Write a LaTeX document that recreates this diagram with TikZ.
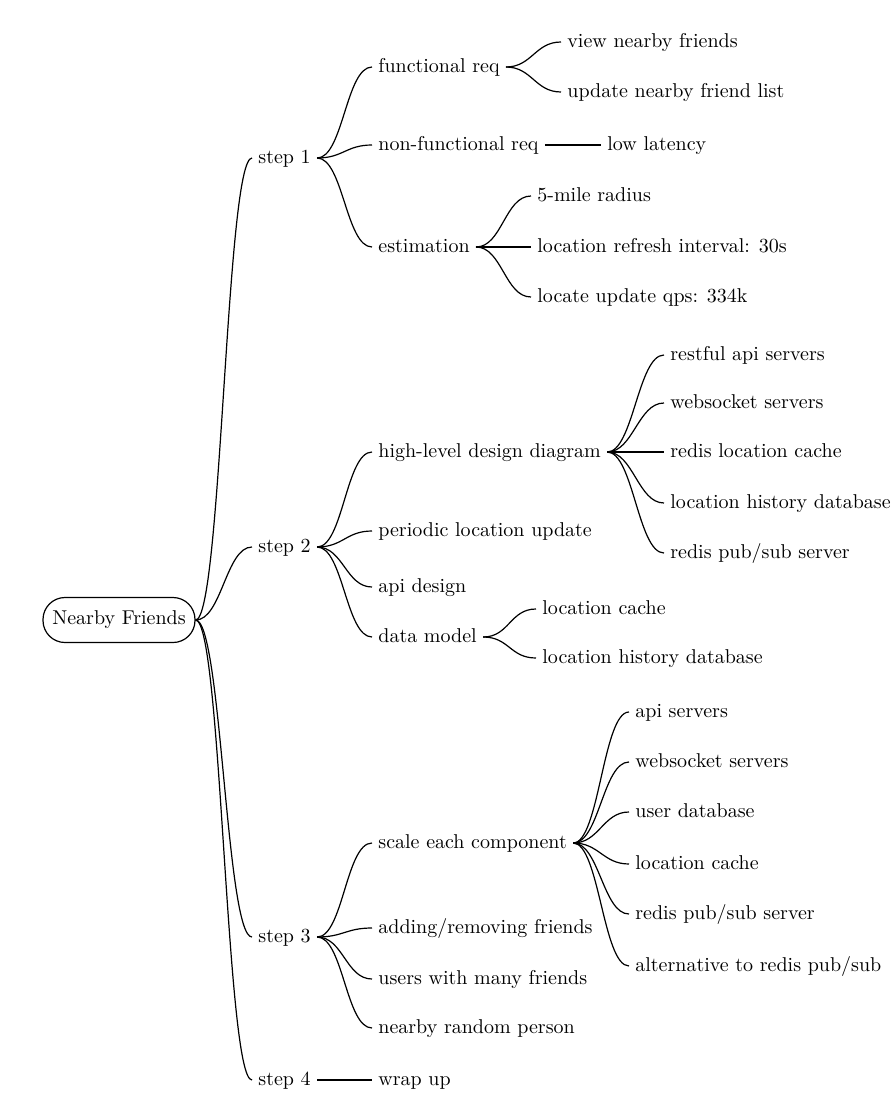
\documentclass[tikz,border=0pt]{standalone}
\usepackage{tikz}

\begin{document}
\begin{tikzpicture}
      [x=.5pt,y=-.5pt
      ,txt/.style={anchor=west,inner sep=3pt,text height=1.5ex,text depth=.25ex,font=\normalsize}
      ,root/.style={draw,semithick,rounded corners=11pt,minimum width=76pt,minimum height=22.5pt,font=\normalsize}
      ,lin/.style={semithick,color=black}
      ,br/.style={out=0,in=180,distance=13pt}]
        \useasboundingbox (0,0) rectangle (894,1108);
        \node[root] (nf) at (119,620) {Nearby Friends};
        % steps
        \node[txt] (s1) at (252,158)  {step 1};
        \node[txt] (s2) at (252,547)  {step 2};
        \node[txt] (s3) at (252,937)  {step 3};
        \node[txt] (s4) at (252,1080) {step 4};
        \foreach \s in {s1,s2,s3,s4}{
          \draw[lin] (nf.east) to[br] (\s.west);
        }
        % step 1
        \node[txt] (fr)  at (372,67)  {functional req};
        \node[txt] (nfr) at (372,145) {non-functional req};
        \node[txt] (est) at (372,247) {estimation};
        \node[txt] (fr1) at (561,42)  {view nearby friends};
        \node[txt] (fr2) at (561,92)  {update nearby friend list};
        \node[txt] (lat) at (601,145) {low latency};
        \node[txt] (es1) at (531,196) {5-mile radius};
        \node[txt] (es2) at (531,247) {location refresh interval: 30s};
        \node[txt] (es3) at (531,297) {locate update qps: 334k};
        \foreach \c in {fr,nfr,est}{
          \draw[lin] (s1.east) to[br] (\c.west);
        }
        \foreach \c in {fr1,fr2}{
          \draw[lin] (fr.east) to[br] (\c.west);
        }
        \draw[lin] (nfr.east) -- (lat.west);
        \foreach \c in {es1,es2,es3}{
          \draw[lin] (est.east) to[br] (\c.west);
        }
        % step 2
        \node[txt] (hld) at (372,452) {high-level design diagram};
        \node[txt] (plu) at (372,531) {periodic location update};
        \node[txt] (api) at (372,587) {api design};
        \node[txt] (dm)  at (372,637) {data model};
        \node[txt] (hl1) at (664,355) {restful api servers};
        \node[txt] (hl2) at (664,403) {websocket servers};
        \node[txt] (hl3) at (664,452) {redis location cache};
        \node[txt] (hl4) at (664,503) {location history database};
        \node[txt] (hl5) at (664,553) {redis pub/sub server};
        \node[txt] (dm1) at (536,609) {location cache};
        \node[txt] (dm2) at (536,658) {location history database};
        \foreach \c in {hld,plu,api,dm}{
          \draw[lin] (s2.east) to[br] (\c.west);
        }
        \foreach \c in {hl1,hl2,hl3,hl4,hl5}{
          \draw[lin] (hld.east) to[br] (\c.west);
        }
        \foreach \c in {dm1,dm2}{
          \draw[lin] (dm.east) to[br] (\c.west);
        }
        % step 3
        \node[txt] (sc)  at (372,843)  {scale each component};
        \node[txt] (arf) at (372,928)  {adding/removing friends};
        \node[txt] (umf) at (372,979)  {users with many friends};
        \node[txt] (nrp) at (372,1028) {nearby random person};
        \node[txt] (sc1) at (629,712) {api servers};
        \node[txt] (sc2) at (629,762) {websocket servers};
        \node[txt] (sc3) at (629,812) {user database};
        \node[txt] (sc4) at (629,864) {location cache};
        \node[txt] (sc5) at (629,914) {redis pub/sub server};
        \node[txt] (sc6) at (629,966) {alternative to redis pub/sub};
        \foreach \c in {sc,arf,umf,nrp}{
          \draw[lin] (s3.east) to[br] (\c.west);
        }
        \foreach \c in {sc1,sc2,sc3,sc4,sc5,sc6}{
          \draw[lin] (sc.east) to[br] (\c.west);
        }
        % step 4
        \node[txt] (wu) at (372,1080) {wrap up};
        \draw[lin] (s4.east) -- (wu.west);
      \end{tikzpicture}
\end{document}
